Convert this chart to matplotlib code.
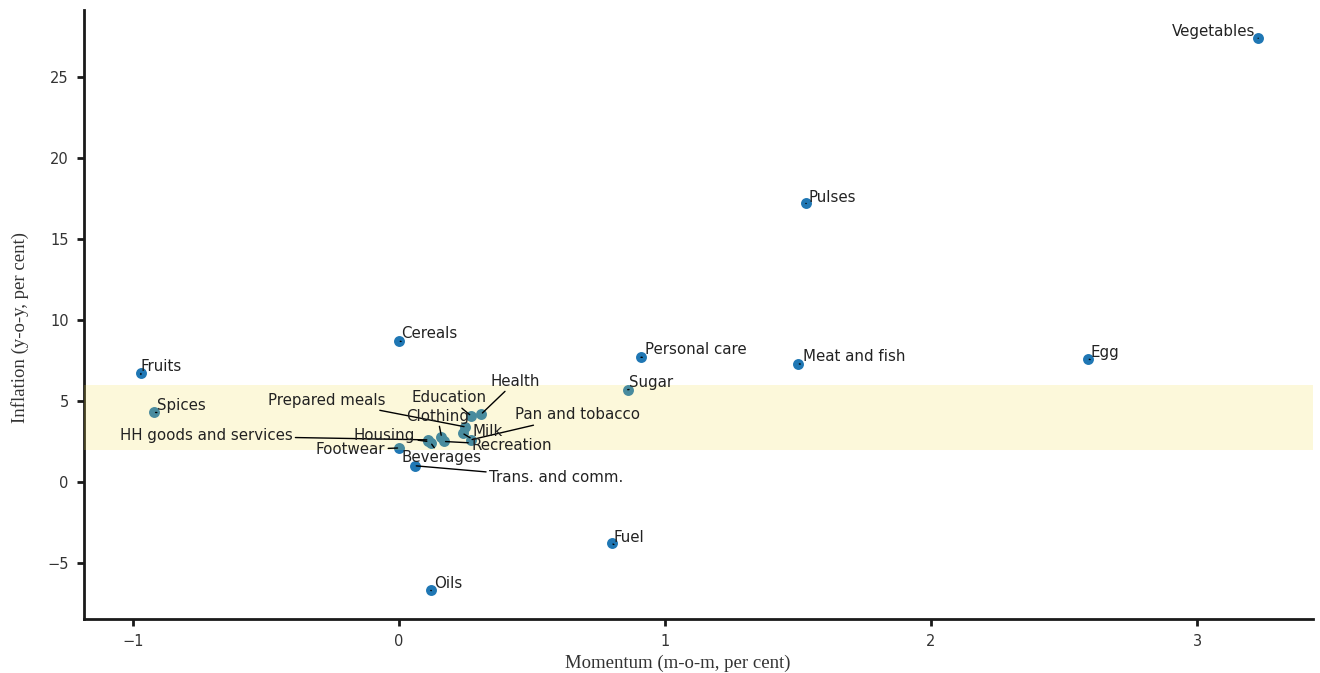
import matplotlib
matplotlib.use("Agg")
import matplotlib.pyplot as plt

# momentum (m-o-m) vs inflation (y-o-y), per cent
items = ["Vegetables", "Pulses", "Cereals", "Fruits", "Personal care",
         "Meat and fish", "Egg", "Sugar", "Spices", "Health", "Education",
         "Prepared meals", "Clothing", "Pan and tobacco", "Milk",
         "HH goods and services", "Housing", "Recreation", "Footwear",
         "Beverages", "Trans. and comm.", "Fuel", "Oils"]
momentum = [3.23, 1.53, 0.00, -0.97, 0.91, 1.50, 2.59, 0.86, -0.92, 0.31,
            0.27, 0.25, 0.16, 0.27, 0.24, 0.11, 0.11, 0.17, 0.00, 0.12,
            0.06, 0.80, 0.12]
inflation = [27.4, 17.2, 8.7, 6.7, 7.7, 7.3, 7.6, 5.7, 4.3, 4.2, 4.1, 3.4,
             2.8, 2.6, 3.0, 2.6, 2.5, 2.5, 2.1, 2.4, 1.0, -3.8, -6.7]
# where each label sits
label_x = [2.906, 1.541, 0.008, -0.970, 0.925, 1.519, 2.598, 0.865, -0.910,
           0.346, 0.049, -0.492, 0.026, 0.436, 0.278, -1.049, -0.169, 0.271,
           -0.312, 0.011, 0.338, 0.808, 0.132]
label_y = [27.84, 17.59, 9.14, 7.10, 8.15, 7.72, 8.02, 6.17, 4.75, 6.23,
           5.19, 5.06, 4.07, 4.14, 3.09, 2.84, 2.84, 2.28, 1.98, 1.48, 0.25,
           -3.40, -6.30]

band_lo, band_hi = 2, 6   # tolerance band

fig = plt.figure(figsize=(13.2, 6.73), dpi=100)
ax = fig.add_axes([0.0636, 0.0803, 0.9311, 0.9047])

ax.scatter(momentum, inflation, s=62, color="#1f77b4", zorder=2, linewidths=0)
ax.axhspan(band_lo, band_hi, color="#f0dc46", alpha=0.2, lw=0, zorder=3)

for name, x, y, tx, ty in zip(items, momentum, inflation, label_x, label_y):
    # labels sitting right next to their dot get only a tiny stub
    if abs(tx - x) < 0.05 and abs(ty - y) < 0.7:
        rp = (0, 0)
    elif name == "Vegetables":
        rp = (1, 0)
    else:
        rp = (0.5, 0.5)
    ax.annotate(name, xy=(x, y), xytext=(tx, ty), ha="left", va="center",
                fontsize=10.8, color="#222222", family="DejaVu Sans", zorder=4,
                arrowprops=dict(arrowstyle="-", color="black", lw=1,
                                shrinkA=0, shrinkB=1, relpos=rp))

ax.set_xlim(-1.184, 3.436)
ax.set_ylim(-8.46, 29.14)
ax.set_xticks([-1, 0, 1, 2, 3])
ax.set_yticks([-5, 0, 5, 10, 15, 20, 25])

for s in ["top", "right"]:
    ax.spines[s].set_visible(False)
for s in ["left", "bottom"]:
    ax.spines[s].set_linewidth(2)
    ax.spines[s].set_color("#1a1a1a")
ax.tick_params(axis="both", direction="out", length=5, width=2,
               color="#1a1a1a", labelsize=10.5, labelcolor="#333333", pad=6)

ax.set_xlabel("Momentum (m-o-m, per cent)", family="Liberation Serif",
              fontsize=13.5, color="#333333")
ax.set_ylabel("Inflation (y-o-y, per cent)", family="Liberation Serif",
              fontsize=13.5, color="#333333")
ax.xaxis.set_label_coords(0.483, -0.058)
ax.yaxis.set_label_coords(-0.045, 0.479)

fig.savefig("out.png", dpi=100)
